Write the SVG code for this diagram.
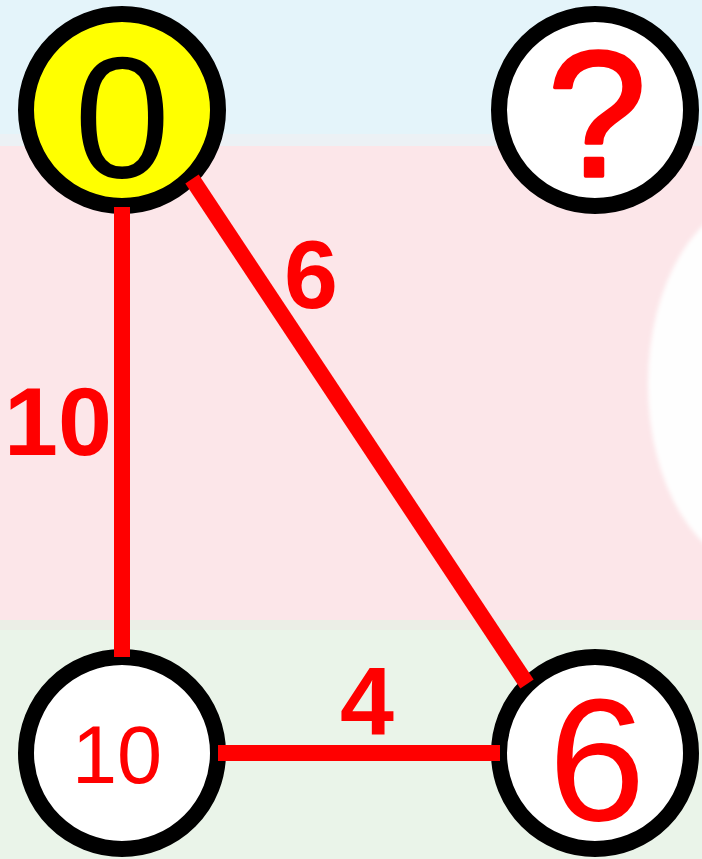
<svg xmlns="http://www.w3.org/2000/svg" width="702" height="859" viewBox="0 0 702 859">
<defs>
<style>
.node{stroke:#000;stroke-width:16}
.edge{stroke:#ff0000;stroke-width:16;fill:none}
.lbl{font-family:"Liberation Sans",Arial,sans-serif;fill:#ff0000;text-anchor:middle}
.elbl{font-family:"Liberation Sans",Arial,sans-serif;font-weight:bold;fill:#ff0000;text-anchor:middle;font-size:97px}
</style>
<filter id="blur" x="-20%" y="-20%" width="140%" height="140%"><feGaussianBlur stdDeviation="2"/></filter>
</defs>
<g id="background">
<rect x="0" y="0" width="702" height="134" fill="#e4f4fa"/>
<rect x="0" y="134" width="702" height="12" fill="#ecf1f5"/>
<rect x="0" y="146" width="702" height="474" fill="#fce6e9"/>
<rect x="0" y="620" width="702" height="10" fill="#ebeee6"/>
<rect x="0" y="630" width="702" height="229" fill="#eaf4e9"/>
<ellipse cx="760" cy="384" rx="112" ry="184" fill="#fefefe" filter="url(#blur)"/>
</g>
<g id="node0">
<circle class="node" cx="122" cy="110" r="96" fill="#ffff00"/>
<text class="lbl" x="122" y="177" font-size="173" style="fill:#000">0</text>
</g>
<g id="nodeQ">
<circle class="node" cx="595" cy="110" r="96" fill="#ffffff"/>
<text class="lbl" x="597" y="176" font-size="178" stroke="#ff0000" stroke-width="3.5" stroke-linejoin="round">?</text>
</g>
<g id="node10">
<circle class="node" cx="122" cy="753" r="96" fill="#ffffff"/>
<text class="lbl" x="117" y="783" font-size="81">10</text>
</g>
<g id="node6">
<circle class="node" cx="595" cy="753" r="96" fill="#ffffff"/>
<text class="lbl" x="597" y="820" font-size="175">6</text>
</g>
<g id="connectors">
<line class="edge" x1="122" y1="207" x2="122" y2="657"/>
<line class="edge" x1="192" y1="179" x2="527" y2="684"/>
<line class="edge" x1="218" y1="753" x2="500" y2="753"/>
<text class="elbl" x="58" y="455">10</text>
<text class="elbl" x="311" y="308">6</text>
<text class="elbl" x="367" y="735">4</text>
</g>
</svg>
